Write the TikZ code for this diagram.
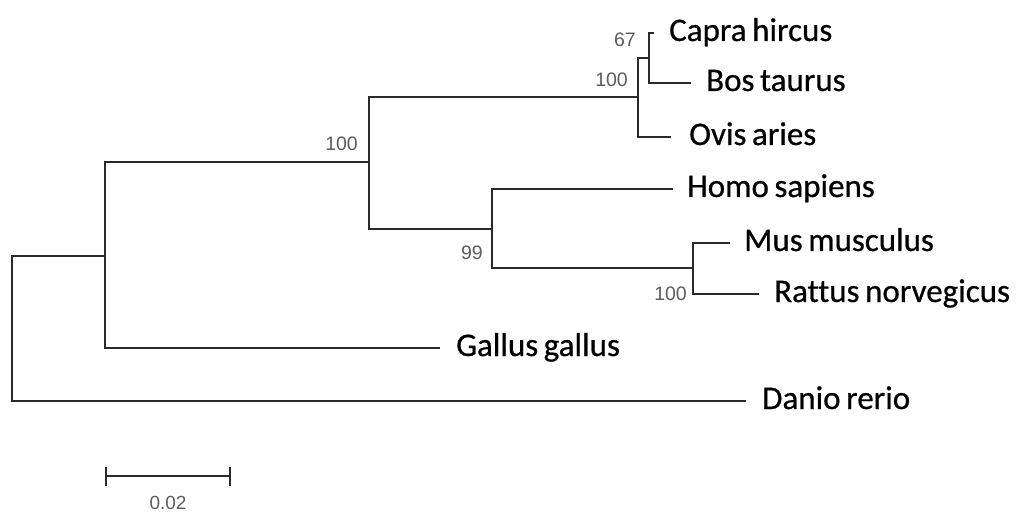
\documentclass[tikz,border=0pt]{standalone}
\usepackage{fontspec}
\setmainfont{Carlito}[WordSpace={0.75,0,0},FakeBold=0.6,Ligatures=NoCommon]
\newfontfamily\numfont{Liberation Sans}
\definecolor{branch}{HTML}{2A2A2A}
\definecolor{support}{HTML}{5C5C5C}
\begin{document}
\begin{tikzpicture}[x=1pt,y=-1pt,
  edge/.style={draw=branch,line width=2.2pt,line cap=rect},
  leaf/.style={anchor=base west,inner sep=0pt,font=\fontsize{33}{33}\selectfont},
  boot/.style={anchor=base east,inner sep=0pt,text=support,font=\numfont\fontsize{19.5}{19.5}\selectfont},
  scalelbl/.style={anchor=base,inner sep=0pt,text=support,font=\numfont\fontsize{19}{19}\selectfont}]
\useasboundingbox (0,0) rectangle (1024,526);
% internal nodes
\coordinate (R) at (12,328.5);
\coordinate (A) at (105,256);
\coordinate (B) at (369,162);
\coordinate (C) at (638,97);
\coordinate (D) at (649,58);
\coordinate (F) at (492,229);
\coordinate (E) at (693,268);
% tips
\coordinate (tDanio) at (745,401);
\coordinate (tGallus) at (439,348);
\coordinate (tOvis) at (670,137);
\coordinate (tCapra) at (653,33);
\coordinate (tBos) at (690,83);
\coordinate (tHomo) at (672,189);
\coordinate (tMus) at (729,243);
\coordinate (tRattus) at (758,294);
% edges
\draw[edge] (R) |- (A);
\draw[edge] (R) |- (tDanio);
\draw[edge] (A) |- (B);
\draw[edge] (A) |- (tGallus);
\draw[edge] (B) |- (C);
\draw[edge] (B) |- (F);
\draw[edge] (C) |- (D);
\draw[edge] (C) |- (tOvis);
\draw[edge] (D) |- (tCapra);
\draw[edge] (D) |- (tBos);
\draw[edge] (F) |- (tHomo);
\draw[edge] (F) |- (E);
\draw[edge] (E) |- (tMus);
\draw[edge] (E) |- (tRattus);
% leaf labels
\node[leaf] (lCapra) at (669,41) {Capra hircus};
\node[leaf] (lBos) at (706,91) {Bos taurus};
\node[leaf] (lOvis) at (689,145) {Ovis aries};
\node[leaf] (lHomo) at (687,197) {Homo sapiens};
\node[leaf] (lMus) at (744,251) {Mus musculus};
\node[leaf] (lRattus) at (774,302) {Rattus norvegicus};
\node[leaf] (lGallus) at (456,356) {Gallus gallus};
\node[leaf] (lDanio) at (762,409) {Danio rerio};
% bootstrap values
\node[boot] (bB) at (358,151) {100};
\node[boot] (bF) at (483,260) {99};
\node[boot] (bC) at (628,87) {100};
\node[boot] (bD) at (636,47) {67};
\node[boot] (bE) at (687,301) {100};
% scale bar
\coordinate (s1) at (106,476);
\coordinate (s2) at (230,476);
\draw[edge,line cap=butt] (s1) -- (s2);
\draw[edge,line cap=butt] ([yshift=-9.5pt]s1) -- ([yshift=9.5pt]s1);
\draw[edge,line cap=butt] ([yshift=-9.5pt]s2) -- ([yshift=9.5pt]s2);
\node[scalelbl] (sl) at (168,509) {0.02};
\end{tikzpicture}
\end{document}
